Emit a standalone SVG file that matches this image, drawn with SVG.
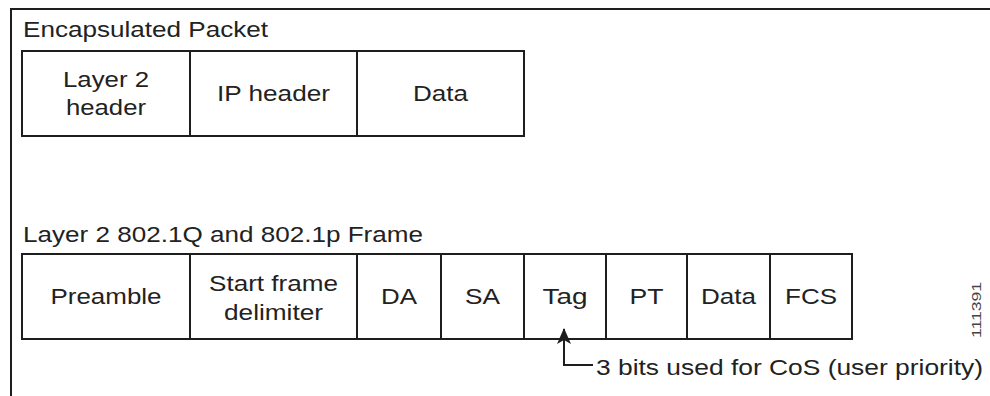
<svg xmlns="http://www.w3.org/2000/svg" width="990" height="396" viewBox="0 0 990 396">
<style>
.t{font-family:"Liberation Sans",Arial,sans-serif;font-size:22px;fill:#222}
.c{text-anchor:middle}
.box{fill:#fff;stroke:#1e1e1e;stroke-width:2}
.ln{fill:none;stroke:#1e1e1e;stroke-width:2}
.id{font-family:"Liberation Sans",Arial,sans-serif;font-size:12px;fill:#444}
</style>
<defs>
<marker id="ah" viewBox="0 0 16 14" refX="15" refY="7" markerWidth="16" markerHeight="14" markerUnits="userSpaceOnUse" orient="auto">
<path d="M0,0 L16,7 L0,14 L4,7 Z" fill="#1e1e1e"/>
</marker>
</defs>
<rect x="0" y="0" width="990" height="396" fill="#fff"/>
<g id="frame">
<path class="ln" d="M11,396 V9 H990"/>
</g>
<g id="encapsulated-packet">
<text class="t" x="23" y="37" textLength="245" lengthAdjust="spacingAndGlyphs">Encapsulated Packet</text>
<g id="layer2-header">
<rect class="box" x="22" y="51" width="168" height="85"/>
<text class="t c" x="106" y="87" textLength="86" lengthAdjust="spacingAndGlyphs">Layer 2</text>
<text class="t c" x="106" y="115" textLength="80" lengthAdjust="spacingAndGlyphs">header</text>
</g>
<g id="ip-header">
<rect class="box" x="190" y="51" width="167" height="85"/>
<text class="t c" x="273.5" y="101" textLength="113" lengthAdjust="spacingAndGlyphs">IP header</text>
</g>
<g id="data-top">
<rect class="box" x="357" y="51" width="167" height="85"/>
<text class="t c" x="440.5" y="101" textLength="55" lengthAdjust="spacingAndGlyphs">Data</text>
</g>
</g>
<g id="dot1q-frame">
<text class="t" x="23" y="242" textLength="400" lengthAdjust="spacingAndGlyphs">Layer 2 802.1Q and 802.1p Frame</text>
<g id="preamble">
<rect class="box" x="22" y="254" width="168" height="85"/>
<text class="t c" x="106" y="304" textLength="111" lengthAdjust="spacingAndGlyphs">Preamble</text>
</g>
<g id="sfd">
<rect class="box" x="190" y="254" width="167" height="85"/>
<text class="t c" x="273.5" y="291" textLength="129" lengthAdjust="spacingAndGlyphs">Start frame</text>
<text class="t c" x="273.5" y="320" textLength="99" lengthAdjust="spacingAndGlyphs">delimiter</text>
</g>
<g id="da">
<rect class="box" x="357" y="254" width="84" height="85"/>
<text class="t c" x="399" y="304" textLength="36" lengthAdjust="spacingAndGlyphs">DA</text>
</g>
<g id="sa">
<rect class="box" x="441" y="254" width="83" height="85"/>
<text class="t c" x="482.5" y="304" textLength="35" lengthAdjust="spacingAndGlyphs">SA</text>
</g>
<g id="tag">
<rect class="box" x="524" y="254" width="82" height="85"/>
<text class="t c" x="565" y="304" textLength="45" lengthAdjust="spacingAndGlyphs">Tag</text>
</g>
<g id="pt">
<rect class="box" x="606" y="254" width="81" height="85"/>
<text class="t c" x="646.5" y="304" textLength="34" lengthAdjust="spacingAndGlyphs">PT</text>
</g>
<g id="data-frame">
<rect class="box" x="687" y="254" width="83" height="85"/>
<text class="t c" x="728.5" y="304" textLength="55" lengthAdjust="spacingAndGlyphs">Data</text>
</g>
<g id="fcs">
<rect class="box" x="770" y="254" width="82" height="85"/>
<text class="t c" x="811" y="304" textLength="52" lengthAdjust="spacingAndGlyphs">FCS</text>
</g>
</g>
<g id="connectors">
<path class="ln" d="M593,365 H564 V329" marker-end="url(#ah)"/>
</g>
<g id="cos-note">
<text class="t" x="596" y="375" textLength="387" lengthAdjust="spacingAndGlyphs">3 bits used for CoS (user priority)</text>
</g>
<g id="figure-id">
<text class="id" transform="translate(981,310) rotate(-90)" text-anchor="middle" textLength="56" lengthAdjust="spacingAndGlyphs">111391</text>
</g>
</svg>
